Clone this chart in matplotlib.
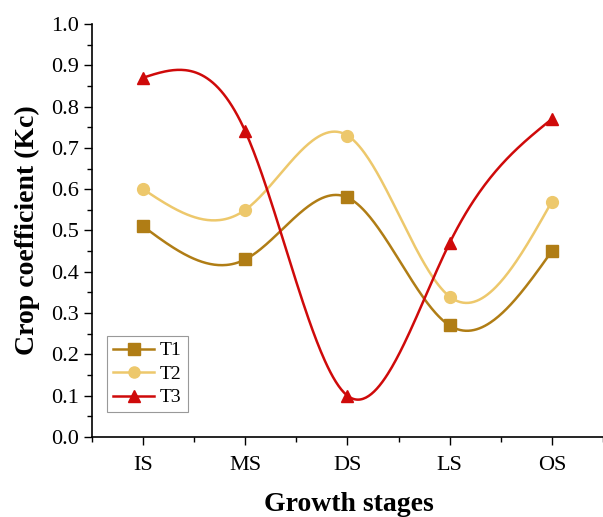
import numpy as np
import matplotlib
matplotlib.use("Agg")
import matplotlib.pyplot as plt
from matplotlib.ticker import MultipleLocator, FormatStrFormatter

stages = ["IS", "MS", "DS", "LS", "OS"]
t1 = [0.51, 0.43, 0.58, 0.27, 0.45]
t2 = [0.60, 0.55, 0.73, 0.34, 0.57]
t3 = [0.87, 0.74, 0.10, 0.47, 0.77]
series_names = ["T1", "T2", "T3"]
colors = ["#B07D15", "#EDC86C", "#CF0A0A"]
markers = ["s", "o", "^"]


def natural_spline(x, y, n=300):
    x = np.asarray(x, float)
    y = np.asarray(y, float)
    k = len(x)
    h = np.diff(x)
    A = np.zeros((k, k))
    b = np.zeros(k)
    A[0, 0] = 1
    A[-1, -1] = 1
    for i in range(1, k - 1):
        A[i, i - 1] = h[i - 1]
        A[i, i] = 2 * (h[i - 1] + h[i])
        A[i, i + 1] = h[i]
        b[i] = 3 * ((y[i + 1] - y[i]) / h[i] - (y[i] - y[i - 1]) / h[i - 1])
    c = np.linalg.solve(A, b)
    xs = np.linspace(x[0], x[-1], n)
    ys = np.empty_like(xs)
    for j, xv in enumerate(xs):
        i = min(np.searchsorted(x, xv, side="right") - 1, k - 2)
        d = xv - x[i]
        bi = (y[i + 1] - y[i]) / h[i] - h[i] * (2 * c[i] + c[i + 1]) / 3
        di = (c[i + 1] - c[i]) / (3 * h[i])
        ys[j] = y[i] + bi * d + c[i] * d ** 2 + di * d ** 3
    return xs, ys


plt.rcParams["font.family"] = ["Liberation Serif", "DejaVu Serif"]
fig = plt.figure(figsize=(6.03, 5.17), dpi=100)
ax = fig.add_axes([92 / 603, (517 - 437) / 517, (606 - 92) / 603, (437 - 24) / 517])

x = np.arange(1, len(stages) + 1)
for vals, name, col, mk in zip([t1, t2, t3], series_names, colors, markers):
    xs, ys = natural_spline(x, vals)
    ax.plot(xs, ys, color=col, lw=1.8, zorder=2)
    ax.plot(x, vals, linestyle="none", marker=mk, color=col, ms=8.5, zorder=3)
    ax.plot([], [], color=col, lw=1.8, marker=mk, ms=8, label=name)

ax.set_xlim(0.5, 5.53)
ax.set_ylim(0, 1.0)
ax.set_xticks(x)
ax.set_xticklabels(stages)
ax.xaxis.set_minor_locator(MultipleLocator(0.5))
ax.yaxis.set_major_locator(MultipleLocator(0.1))
ax.yaxis.set_minor_locator(MultipleLocator(0.05))
ax.yaxis.set_major_formatter(FormatStrFormatter("%.1f"))
ax.tick_params(axis="both", which="major", length=6, width=1, labelsize=16, direction="out")
ax.tick_params(axis="both", which="minor", length=3.5, width=1, direction="out")
ax.tick_params(axis="x", pad=8)
for s in ["top", "right"]:
    ax.spines[s].set_visible(False)
for s in ["left", "bottom"]:
    ax.spines[s].set_linewidth(1.2)

ax.set_xlabel("Growth stages", fontsize=20, fontweight="bold", labelpad=12)
ax.set_ylabel("Crop coefficient (Kc)", fontsize=20, fontweight="bold", labelpad=8)

leg = ax.legend(loc="lower left", bbox_to_anchor=(0.03, 0.06), fontsize=14,
                frameon=True, fancybox=False, edgecolor="#999999", framealpha=1,
                handlelength=2.1, handletextpad=0.3, borderpad=0.3, labelspacing=0.3,
                borderaxespad=0)
leg.get_frame().set_linewidth(0.8)

fig.savefig("out.png", dpi=100)
